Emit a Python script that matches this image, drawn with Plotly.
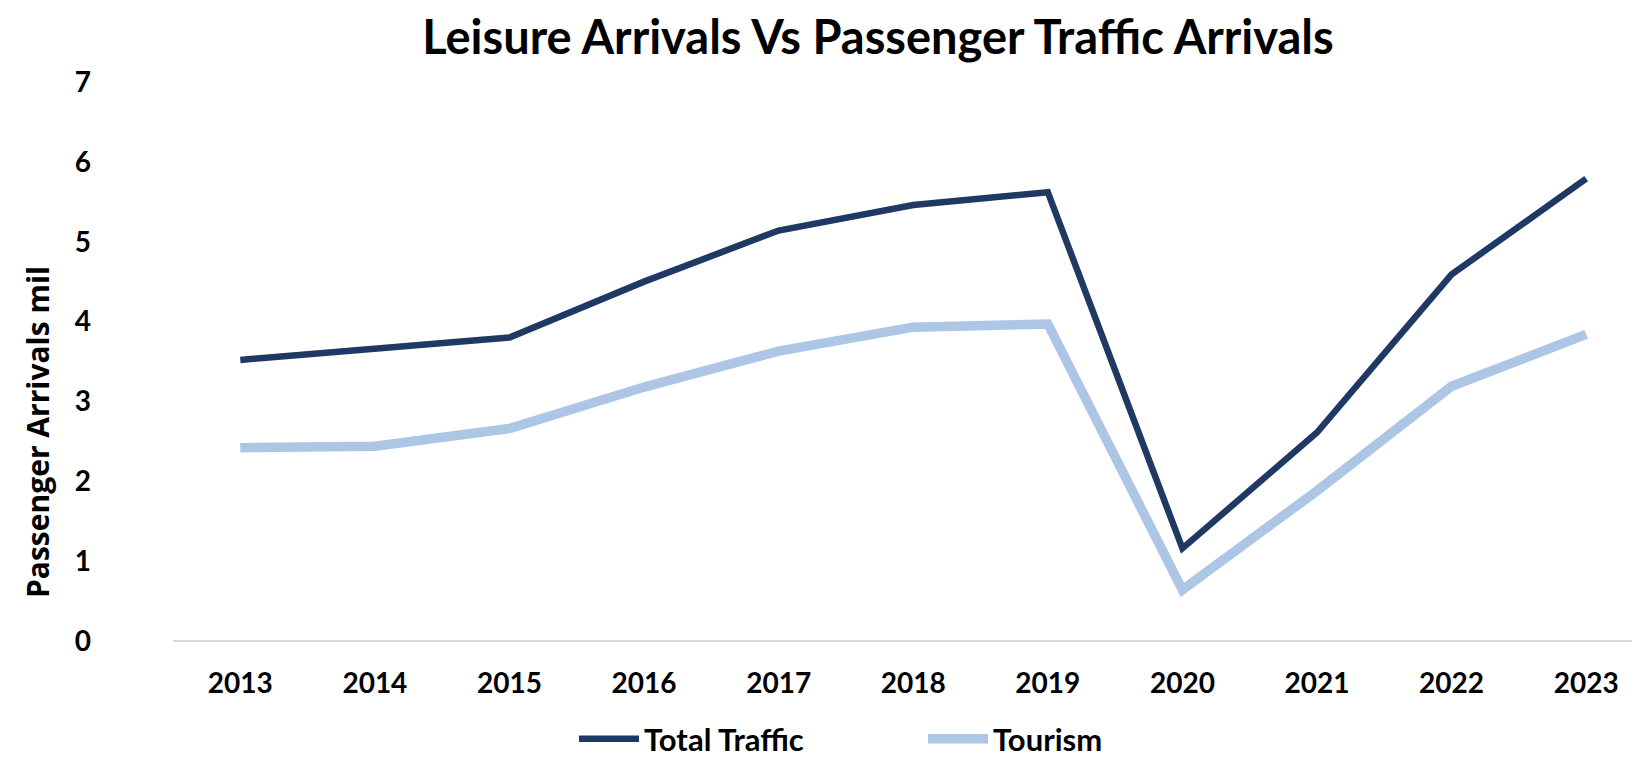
import plotly.graph_objects as go

years = ["2013", "2014", "2015", "2016", "2017", "2018", "2019", "2020", "2021", "2022", "2023"]
total_traffic = [3.52, 3.67, 3.80, 4.50, 5.14, 5.46, 5.62, 1.16, 2.61, 4.59, 5.79]
tourism = [2.42, 2.44, 2.66, 3.18, 3.63, 3.93, 3.97, 0.64, 1.88, 3.19, 3.84]
y_ticks = [0, 1, 2, 3, 4, 5, 6, 7]

DARK = "#203864"
LIGHT = "#ADC6E6"
FONT = "Lato"

# figure is placed at an 8px offset by the page body margin
W, H = 1632, 752
L, T, B = 165, 74, 119
PW = W - L
PH = H - T - B

fig = go.Figure()
fig.add_trace(go.Scatter(x=years, y=total_traffic, mode="lines", name="Total Traffic",
                         line=dict(color=DARK, width=6.5)))
fig.add_trace(go.Scatter(x=years, y=tourism, mode="lines", name="Tourism",
                         line=dict(color=LIGHT, width=9.5)))

fig.add_annotation(text="<b>Passenger Arrivals mil</b>", textangle=-90,
                   xref="paper", yref="paper",
                   x=(29 - L) / PW, y=(633 - 424) / PH,
                   xanchor="center", yanchor="middle", showarrow=False,
                   font=dict(family="Open Sans", size=30, color="black"))

fig.update_layout(
    width=W, height=H,
    paper_bgcolor="white", plot_bgcolor="white",
    margin=dict(l=L, r=0, t=T, b=B, autoexpand=False),
    title=dict(text="<b>Leisure Arrivals Vs Passenger Traffic Arrivals</b>",
               font=dict(family=FONT, size=47, color="black"),
               x=870 / W, xref="container", xanchor="center",
               y=1 - 30 / H, yref="container", yanchor="middle"),
    font=dict(family=FONT, color="black"),
    showlegend=True,
    legend=dict(orientation="h", x=(566 - L) / PW, xanchor="left",
                y=(633 - 731) / PH, yanchor="middle",
                font=dict(family=FONT, size=31, color="black", weight="bold"),
                itemwidth=60,
                entrywidth=274, entrywidthmode="pixels",
                bgcolor="rgba(0,0,0,0)"),
    xaxis=dict(type="category", range=[-0.5, 10.4], showgrid=False, zeroline=False,
               showline=False, ticks="",
               tickfont=dict(family=FONT, size=28, color="black", weight="bold"),
               ticklabelstandoff=23),
    yaxis=dict(range=[0, 7], tickvals=y_ticks, showgrid=False, zeroline=True,
               zerolinecolor="#D9D9D9", zerolinewidth=2, showline=False, ticks="",
               tickfont=dict(family=FONT, size=28, color="black", weight="bold"),
               ticklabelstandoff=81),
)

fig.write_html("out.html")
